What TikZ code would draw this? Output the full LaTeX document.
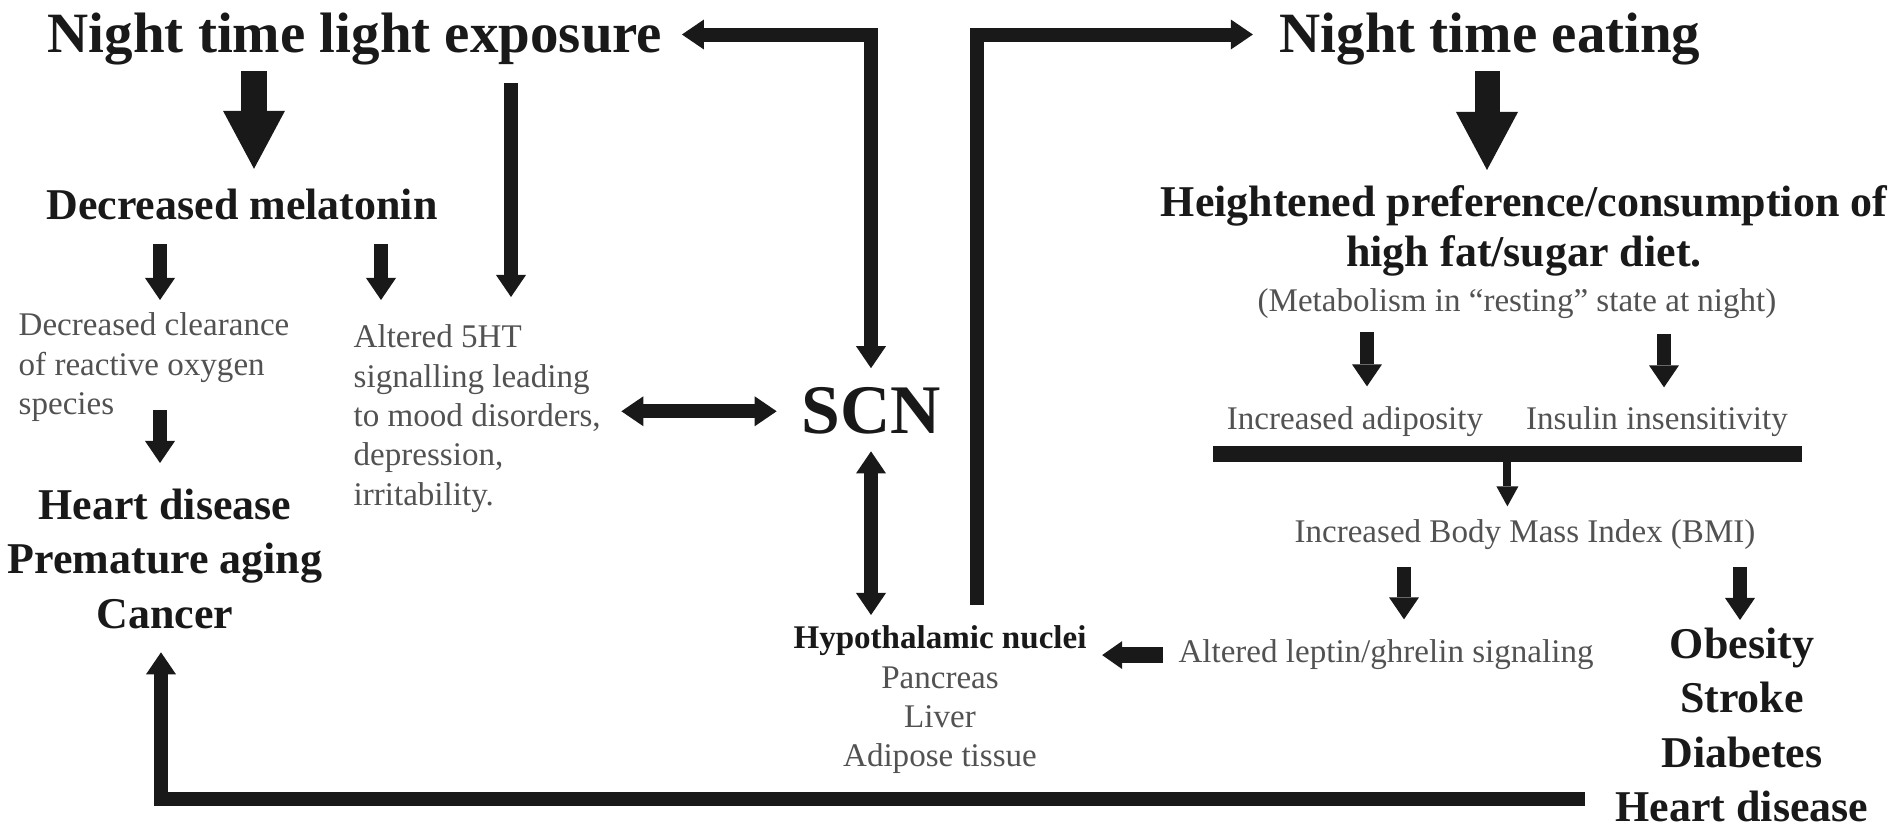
\documentclass[tikz,border=0pt]{standalone}
\usepackage{fontspec}
\setmainfont{Liberation Serif}
\usetikzlibrary{arrows.meta,calc}

\begin{document}
\begin{tikzpicture}[x=0.01cm,y=-0.01cm,
  hd/.tip={Triangle[width=0.3cm,length=0.22cm,line width=0pt]},
  bighd/.tip={Triangle[width=0.62cm,length=0.58cm,line width=0pt]},
  slimhd/.tip={Triangle[width=0.22cm,length=0.2cm,line width=0pt]},
  stubhd/.tip={Triangle[width=0.28cm,length=0.2cm,line width=0pt]},
  txt/.style={inner sep=0pt,anchor=base,text=black!90},
  big/.style={txt,font=\bfseries\fontsize{16.2}{19}\selectfont},
  mid/.style={txt,font=\bfseries\fontsize{12.5}{15.5}\selectfont,align=center},
  small/.style={txt,font=\fontsize{9.4}{11.2}\selectfont,text=black!68},
  fat/.style={line width=0.25cm,black!90,-bighd},
  link/.style={line width=0.14cm,black!90,-hd},
  elbow/.style={line width=0.14cm,black!90,-hd},
  slim/.style={line width=0.08cm,black!90,-slimhd},
  stub/.style={line width=0.16cm,black!90,-stubhd},
  bar/.style={line width=0.16cm,black!90}]
\useasboundingbox (0,0) rectangle (1899,828);
\node[big] (lightexp) at (355,53) {Night time light exposure};
\node[big] (eating) at (1490,53) {Night time eating};
\node[mid] (melat) at (242,220) {Decreased melatonin};
\node[small,align=left,anchor=north west] (clear) at (18,312) {Decreased clearance\\of reactive oxygen\\species};
\node[small,align=left,anchor=north west] (serot) at (353,324) {Altered 5HT\\signalling leading\\to mood disorders,\\depression,\\irritability.};
\node[mid,anchor=north] (illsl) at (165,488) {Heart disease\\Premature aging\\Cancer};
\node[txt,font=\bfseries\fontsize{19.8}{24}\selectfont] (scn) at (871,434) {SCN};
\node[small,align=center,anchor=north] (hypo) at (940,625) {{\color{black!90}\textbf{Hypothalamic nuclei}}\\Pancreas\\Liver\\Adipose tissue};
\node[mid,anchor=north,font=\bfseries\fontsize{12.5}{14.2}\selectfont] (heighten) at (1524,185) {Heightened preference/consumption of\\high fat/sugar diet.};
\node[small] (metab) at (1517,312) {(Metabolism in “resting” state at night)};
\node[small] (adip) at (1355,430) {Increased adiposity};
\node[small] (insul) at (1657,430) {Insulin insensitivity};
\node[small] (bmi) at (1525,543) {Increased Body Mass Index (BMI)};
\node[small] (lept) at (1386,663) {Altered leptin/ghrelin signaling};
\node[mid,anchor=north] (illsr) at (1742,627) {Obesity\\Stroke\\Diabetes\\Heart disease};
\draw[fat] ($(melat.north |- lightexp.south)+(12,5)$) -- ($(melat.north)+(12,-20)$);
\draw[fat] ($(eating.south)+(-3,5)$) -- ($(eating.south |- heighten.north)+(-3,-15)$);
\draw[link] ($(serot.north west |- lightexp.south)+(158,17)$) -- ($(serot.north west)+(158,-27)$);
\draw[link] ($(clear.north west |- melat.south)+(142,23)$) -- ($(clear.north west)+(142,-12)$);
\draw[link] ($(serot.north west |- melat.south)+(28,23)$) -- ($(serot.north west)+(28,-24)$);
\draw[link] ($(clear.south west)+(142,-12)$) -- ($(clear.south west |- illsl.north)+(142,-25)$);
\draw[link,hd-hd] ($(serot.east |- scn.west)+(20,0)$) -- ($(scn.west)+(-24,0)$);
\draw[elbow,hd-hd] ($(lightexp.east)+(19,-5)$) -| ($(scn.north)+(0,-19)$);
\draw[elbow] ($(hypo.north)+(37,-20)$) |- ($(eating.west)+(-26,-5)$);
\draw[link,hd-hd] ($(scn.south)+(0,16)$) -- ($(scn.south |- hypo.north)+(0,-10)$);
\draw[link] ($(adip.north |- metab.south)+(12,12)$) -- ($(adip.north)+(12,-20)$);
\draw[link] ($(insul.north |- metab.south)+(7,14)$) -- ($(insul.north)+(7,-19)$);
\draw[bar] ($(adip.base west)+(-13,24)$) -- coordinate[pos=.5] (join) ($(insul.base east)+(13,24)$);
\draw[slim] ($(join)+(0,7)$) -- ($(join |- bmi.north)+(0,-13)$);
\draw[link] ($(lept.north |- bmi.south)+(18,16)$) -- ($(lept.north)+(18,-20)$);
\draw[link] ($(illsr.north |- bmi.south)+(-2,16)$) -- ($(illsr.north)+(-2,-7)$);
\draw[stub] ($(lept.west)+(-15,0)$) -- ($(lept.west -| hypo.east)+(15,0)$);
\draw[elbow] ($(illsr.south west)+(-30,-24)$) -| ($(illsl.south)+(-4,23)$);
\end{tikzpicture}
\end{document}
